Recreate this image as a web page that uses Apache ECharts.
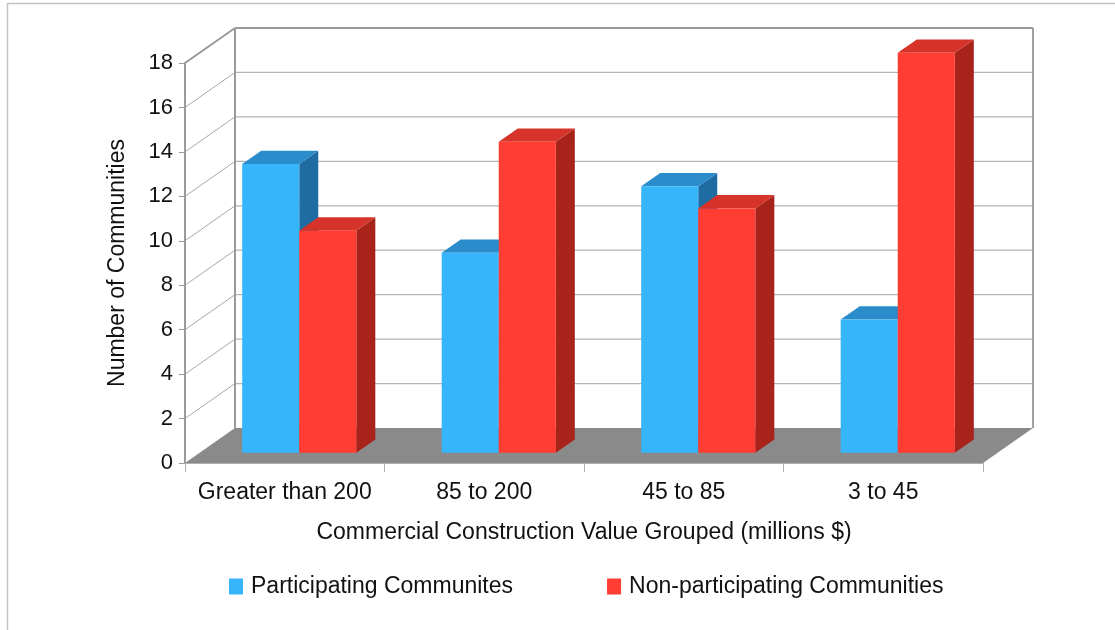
<!DOCTYPE html>
<html>
<head>
<meta charset="utf-8">
<script src="https://cdn.jsdelivr.net/npm/echarts@6/dist/echarts.min.js"></script>
<style>
  html, body { margin: 0; padding: 0; background: #ffffff; }
  #chart { width: 1115px; height: 630px; }
</style>
</head>
<body>
<div id="chart"></div>
<script>
// Categories and values
var categories = ['Greater than 200', '85 to 200', '45 to 85', '3 to 45'];
var participating = [13, 9, 12, 6];
var nonParticipating = [10, 14, 11, 18];
var yTicks = [0, 2, 4, 6, 8, 10, 12, 14, 16, 18];
var seriesNames = ['Participating Communites', 'Non-participating Communities'];

// Oblique depth of the chart box (pixels)
var DEPTH = [50, -35];
var BAR_OFFSET = 0.29;   // where bars sit inside the box depth
var BAR_DEPTH = 0.38;    // bar thickness as share of box depth
var BAR_SHARE = 0.286;   // bar width as share of category band

var palette = [
  { front: '#37b5fb', top: '#2b8ccb', side: '#1f6ca3' },
  { front: '#ff3d33', top: '#d6342a', side: '#a82319' }
];

var FONT = 'Liberation Sans, Arial, Helvetica, sans-serif';

function poly(points, color, z) {
  return { type: 'polygon', shape: { points: points }, style: { fill: color }, z2: z || 0 };
}
function line(x1, y1, x2, y2, color, w, z) {
  return { type: 'line', shape: { x1: x1, y1: y1, x2: x2, y2: y2 },
           style: { stroke: color, lineWidth: w }, z2: z || 0 };
}

// Walls, floor and gridlines of the 3D box
function renderFrame(params, api) {
  var band = api.size([1, 0])[0];
  var n = categories.length;
  var xl = api.coord([0, 0])[0] - band / 2;
  var xr = api.coord([n - 1, 0])[0] + band / 2;
  var yMax = yTicks[yTicks.length - 1];
  var y0 = api.coord([0, 0])[1];
  var yT = api.coord([0, yMax])[1];
  var dx = DEPTH[0], dy = DEPTH[1];
  var kids = [];
  // back wall
  kids.push(poly([[xl + dx, yT + dy], [xr + dx, yT + dy], [xr + dx, y0 + dy], [xl + dx, y0 + dy]], '#ffffff'));
  // left wall
  kids.push(poly([[xl, yT], [xl + dx, yT + dy], [xl + dx, y0 + dy], [xl, y0]], '#ffffff'));
  // gridlines
  for (var i = 1; i < yTicks.length - 1; i++) {
    var y = api.coord([0, yTicks[i]])[1];
    kids.push(line(xl + dx, y + dy, xr + dx, y + dy, '#b4b4b4', 1.2, 1));
    kids.push(line(xl, y, xl + dx, y + dy, '#a8a8a8', 1, 1));
  }
  // floor
  kids.push(poly([[xl, y0], [xr, y0], [xr + dx, y0 + dy], [xl + dx, y0 + dy]], '#8a8a8a', 2));
  // box outline
  kids.push(line(xl, yT, xl + dx, yT + dy, '#9a9a9a', 2, 3));
  kids.push(line(xl + dx, yT + dy, xr + dx, yT + dy, '#9a9a9a', 2, 3));
  kids.push(line(xl + dx, yT + dy, xl + dx, y0 + dy, '#9a9a9a', 2, 3));
  kids.push(line(xr + dx, yT + dy, xr + dx, y0 + dy, '#a0a0a0', 2, 3));
  return { type: 'group', children: kids };
}

function makeBarRenderer(sIdx) {
  return function (params, api) {
    var ci = api.value(0), v = api.value(1);
    var base = api.coord([ci, 0]);
    var top = api.coord([ci, v]);
    var band = api.size([1, 0])[0];
    var bw = band * BAR_SHARE;
    var ox = DEPTH[0] * BAR_OFFSET, oy = DEPTH[1] * BAR_OFFSET;
    var ddx = DEPTH[0] * BAR_DEPTH, ddy = DEPTH[1] * BAR_DEPTH;
    var x1 = base[0] - bw + sIdx * bw + ox;
    var x2 = x1 + bw;
    var yb = base[1] + oy;
    var yt = top[1] + oy;
    var c = palette[sIdx];
    return {
      type: 'group',
      children: [
        poly([[x2, yt], [x2 + ddx, yt + ddy], [x2 + ddx, yb + ddy], [x2, yb]], c.side),
        poly([[x1, yt], [x1 + ddx, yt + ddy], [x2 + ddx, yt + ddy], [x2, yt]], c.top),
        { type: 'rect', shape: { x: x1, y: yt, width: bw, height: yb - yt }, style: { fill: c.front } }
      ]
    };
  };
}

var chart = echarts.init(document.getElementById('chart'), null, { renderer: 'canvas' });

chart.setOption({
  backgroundColor: '#ffffff',
  animation: false,
  textStyle: { fontFamily: FONT },
  grid: { left: 185, right: 132, top: 63, bottom: 167 },
  legend: {
    data: seriesNames,
    left: 224, top: 570,
    icon: 'rect', itemWidth: 14, itemHeight: 16, itemGap: 94,
    textStyle: { fontSize: 23, color: '#111111', fontFamily: FONT, padding: [0, 0, 0, 3] }
  },
  xAxis: {
    type: 'category',
    data: categories,
    name: 'Commercial Construction Value Grouped (millions $)',
    nameLocation: 'middle',
    nameGap: 58,
    nameTextStyle: { fontSize: 23, color: '#111111', fontFamily: FONT },
    axisLine: { show: true, lineStyle: { color: '#b0b0b0', width: 1 } },
    axisTick: { show: true, length: 9, lineStyle: { color: '#b0b0b0' } },
    axisLabel: { interval: 0, fontSize: 23, color: '#111111', margin: 18, fontFamily: FONT },
    splitLine: { show: false },
    z: 5
  },
  yAxis: {
    type: 'value',
    min: 0, max: 18, interval: 2,
    name: 'Number of Communities',
    nameLocation: 'middle',
    nameGap: 56,
    nameRotate: 90,
    nameTextStyle: { fontSize: 23, color: '#111111', fontFamily: FONT },
    axisLine: { show: true, lineStyle: { color: '#9a9a9a', width: 2 } },
    axisTick: { show: true, length: 6, lineStyle: { color: '#9a9a9a' } },
    axisLabel: { fontSize: 22, color: '#111111', margin: 12, fontFamily: FONT },
    splitLine: { show: false },
    z: 5
  },
  graphic: [
    { type: 'line', shape: { x1: 7, y1: 3.5, x2: 1115, y2: 3.5 }, style: { stroke: '#c4c4c4', lineWidth: 1.5 } },
    { type: 'line', shape: { x1: 7.5, y1: 3, x2: 7.5, y2: 630 }, style: { stroke: '#c4c4c4', lineWidth: 1.5 } }
  ],
  series: [
    {
      type: 'custom', name: 'frame', silent: true, clip: false, z: 1,
      renderItem: renderFrame,
      data: [[0, 0]]
    },
    {
      type: 'custom', name: seriesNames[0], clip: false, z: 2,
      itemStyle: { color: palette[0].front },
      renderItem: makeBarRenderer(0),
      encode: { x: 0, y: 1 },
      data: participating.map(function (v, i) { return [i, v]; })
    },
    {
      type: 'custom', name: seriesNames[1], clip: false, z: 3,
      itemStyle: { color: palette[1].front },
      renderItem: makeBarRenderer(1),
      encode: { x: 0, y: 1 },
      data: nonParticipating.map(function (v, i) { return [i, v]; })
    }
  ]
});
</script>
</body>
</html>
